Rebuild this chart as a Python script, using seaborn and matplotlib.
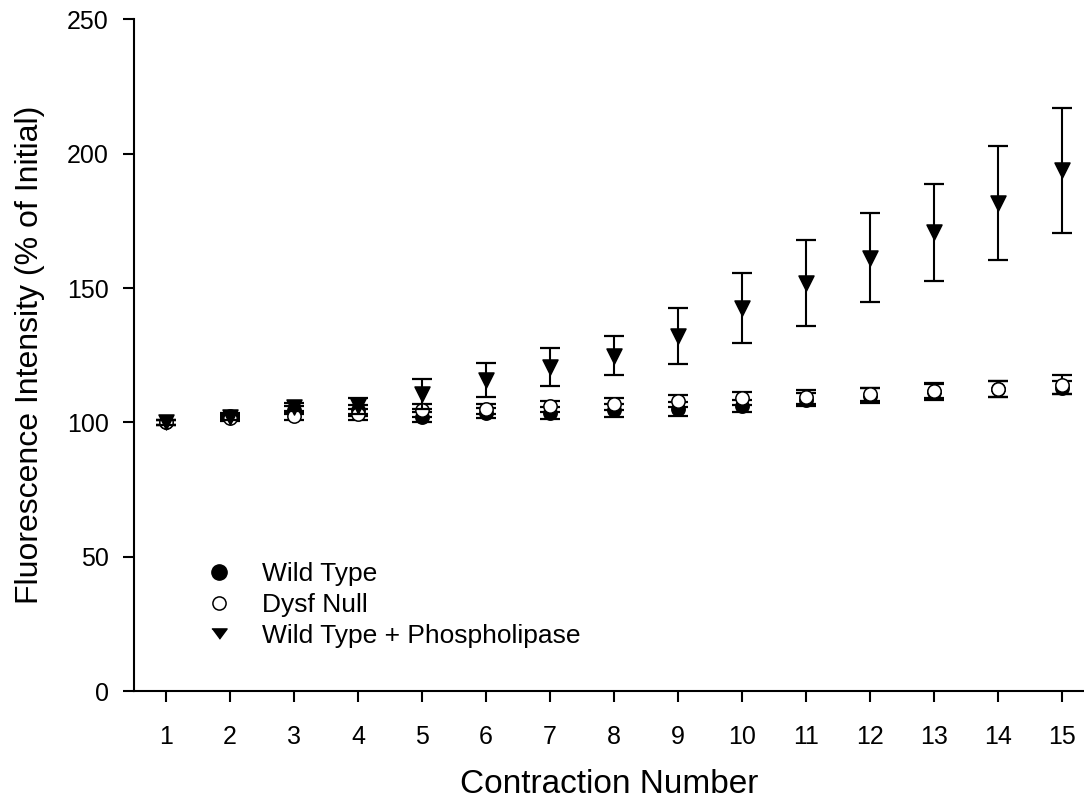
import matplotlib
matplotlib.use("Agg")
import matplotlib.pyplot as plt
import seaborn as sns
import numpy as np
import pandas as pd
from matplotlib.lines import Line2D

contraction = list(range(1, 16))
wt_mean = [100, 102.5, 104.5, 104.5, 102, 103.5, 103.5, 104.5, 105, 106.2, 108.5, 110, 111.5, 112.5, 113]
wt_err = [0.8, 1, 1.5, 2, 2, 2, 2.3, 2.5, 2.5, 2.3, 2.5, 2.8, 3, 3, 2.5]
dysf_mean = [100, 101.5, 102.5, 103, 104.5, 105, 106, 107, 108, 109, 109.5, 110.5, 111.8, 112.4, 114]
dysf_err = [0.8, 1, 1.5, 2, 2.5, 2, 2, 2.2, 2.4, 2.5, 2.5, 2.5, 2.8, 3, 3.5]
ph_mean = [100, 102, 105.8, 106, 110.5, 115.8, 120.7, 124.9, 132.2, 142.5, 152, 161.3, 170.7, 181.5, 193.8]
ph_err = [0.8, 1, 1.5, 3, 5.5, 6.2, 7.1, 7.2, 10.5, 13, 16, 16.6, 18.2, 21.2, 23.3]

series_names = ["Wild Type", "Dysf Null", "Wild Type + Phospholipase"]
y_ticks = [0, 50, 100, 150, 200, 250]

sns.set_style("ticks")
plt.rcParams['font.family'] = ['Liberation Sans', 'DejaVu Sans']
plt.rcParams['text.color'] = 'black'
plt.rcParams['axes.labelcolor'] = 'black'

df = pd.DataFrame({
    "Contraction": contraction * 3,
    "Value": wt_mean + dysf_mean + ph_mean,
    "Err": wt_err + dysf_err + ph_err,
    "Group": [series_names[0]] * 15 + [series_names[1]] * 15 + [series_names[2]] * 15,
})

W, H = 1084, 802
fig = plt.figure(figsize=(W / 100, H / 100), dpi=100)
x0_px, y0_px, ytop_px = 134, 691.3, 19.3
ax = fig.add_axes([x0_px / W, 1 - y0_px / H, (W - x0_px) / W, (y0_px - ytop_px) / H])

styles = {
    "Wild Type": dict(marker="o", face="black", size=9.6),
    "Dysf Null": dict(marker="o", face="white", size=9.6),
    "Wild Type + Phospholipase": dict(marker="v", face="black", size=10.8),
}

z = 2
for name in series_names:
    sub = df[df["Group"] == name]
    st = styles[name]
    ax.errorbar(sub["Contraction"], sub["Value"], yerr=sub["Err"], fmt="none",
                ecolor="black", elinewidth=1.5, capsize=7.2, capthick=1.6, zorder=z)
    sns.scatterplot(data=sub, x="Contraction", y="Value", ax=ax, marker=st["marker"],
                    s=st["size"] ** 2, color=st["face"], edgecolor="black",
                    linewidth=1.1, zorder=z + 1, legend=False)
    z += 2

ax.set_xlim(0.5, 15 + (W - 1062) / 64)
ax.set_ylim(0, 250)
ax.set_xticks(contraction)
ax.set_yticks(y_ticks)
sns.despine(ax=ax)
for sp in ["left", "bottom"]:
    ax.spines[sp].set_linewidth(1.5)
    ax.spines[sp].set_color("black")
ax.tick_params(axis="both", direction="out", length=8, width=1.5, colors="black", labelsize=18)
ax.tick_params(axis="x", pad=16)
ax.tick_params(axis="y", pad=10)
ax.set_xlabel("Contraction Number", fontsize=24, labelpad=15)
ax.set_ylabel("Fluorescence Intensity (% of Initial)", fontsize=23, labelpad=16)

tri_flat = [(-1, 0.6), (1, 0.6), (0, -0.75)]
handles = [
    Line2D([], [], linestyle="none", marker="o", markersize=11, markerfacecolor="black", markeredgecolor="black"),
    Line2D([], [], linestyle="none", marker="o", markersize=9.5, markerfacecolor="white", markeredgecolor="black", markeredgewidth=1.1),
    Line2D([], [], linestyle="none", marker=tri_flat, markersize=11, markerfacecolor="black", markeredgecolor="black"),
]
fs_leg = 19
fs_px = fs_leg * 100 / 72
hl = 2.0
leg_x0 = 219 - hl * fs_px / 2
ax.legend(handles, series_names, loc="upper left",
          bbox_to_anchor=((leg_x0 - x0_px) / (W - x0_px), (y0_px - 562) / (y0_px - ytop_px)),
          frameon=False, fontsize=fs_leg, handlelength=hl,
          handletextpad=(262 - leg_x0 - hl * fs_px) / fs_px, labelspacing=0.26,
          borderaxespad=0, borderpad=0)

fig.savefig("out.png", dpi=100)
